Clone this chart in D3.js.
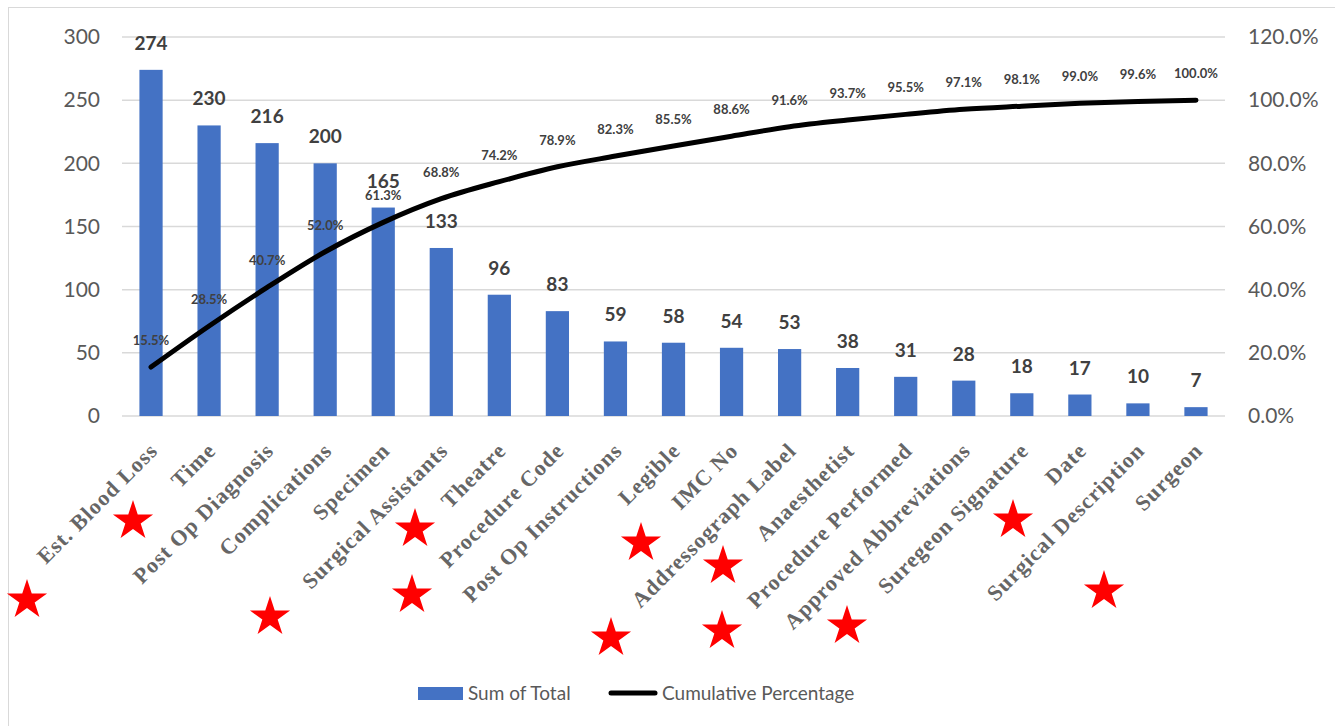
<!DOCTYPE html>
<html>
<head>
<meta charset="utf-8">
<script src="https://cdn.jsdelivr.net/npm/d3@7"></script>
<style>
  body { margin: 0; background: #fff; }
  svg { display: block; }
</style>
</head>
<body>
<div id="chart"></div>
<script>
(function(){
'use strict';

// categories, sorted descending (pareto)
var categories = ['Est. Blood Loss', 'Time', 'Post Op Diagnosis', 'Complications', 'Specimen',
    'Surgical Assistants', 'Theatre', 'Procedure Code', 'Post Op Instructions', 'Legible',
    'IMC No', 'Addressograph Label', 'Anaesthetist', 'Procedure Performed',
    'Approved Abbreviations', 'Suregeon Signature', 'Date', 'Surgical Description', 'Surgeon'];
var totals = [274, 230, 216, 200, 165, 133, 96, 83, 59, 58, 54, 53, 38, 31, 28, 18, 17, 10, 7];
var cumulative = [0.155, 0.285, 0.407, 0.520, 0.613, 0.688, 0.742, 0.789, 0.823, 0.855,
    0.886, 0.916, 0.937, 0.955, 0.971, 0.981, 0.990, 0.996, 1.000];
var leftTicks = [0, 50, 100, 150, 200, 250, 300];
var rightTicks = [0, 0.2, 0.4, 0.6, 0.8, 1.0, 1.2];
// red star annotations drawn on top of the picture (pixel positions)
var starMarks = [[27, 600], [133, 521], [270, 617], [415, 529], [412, 595], [641, 543],
    [611, 638], [723, 566], [722, 631], [847, 626], [1013, 520], [1104, 591]];

var W = 1335, H = 726;
var plot = {left: 122, right: 1225, top: 37, bottom: 416};

var svg = d3.select('#chart').append('svg')
    .attr('width', W).attr('height', H);

svg.append('rect')
    .attr('x', 8.5).attr('y', 7.5)
    .attr('width', W).attr('height', H)
    .attr('fill', '#fff')
    .attr('stroke', '#d9d9d9');

var x = d3.scaleBand().domain(categories)
    .range([plot.left, plot.right])
    .paddingInner(0.6).paddingOuter(0.3);
var y = d3.scaleLinear().domain([0, 300]).range([plot.bottom, plot.top]);
var y2 = d3.scaleLinear().domain([0, 1.2]).range([plot.bottom, plot.top]);

var axisFont = 'Lato, Carlito, "Noto Sans", sans-serif';

// gridlines
svg.append('g').selectAll('line').data(leftTicks).enter().append('line')
    .attr('x1', plot.left).attr('x2', plot.right)
    .attr('y1', function(d) { return y(d); })
    .attr('y2', function(d) { return y(d); })
    .attr('stroke', '#d9d9d9').attr('stroke-width', 1.5);

// left axis
var gl = svg.append('g')
    .attr('transform', 'translate(' + plot.left + ',0)')
    .call(d3.axisLeft(y).tickValues(leftTicks).tickSize(0).tickPadding(22));
gl.select('.domain').remove();
gl.selectAll('text')
    .attr('font-family', axisFont).attr('font-size', 21).attr('fill', '#595959');

// right axis
var gr = svg.append('g')
    .attr('transform', 'translate(' + plot.right + ',0)')
    .call(d3.axisRight(y2).tickValues(rightTicks).tickSize(0).tickPadding(23).tickFormat(d3.format('.1%')));
gr.select('.domain').remove();
gr.selectAll('text')
    .attr('font-family', axisFont).attr('font-size', 21).attr('fill', '#595959');

// bars
svg.append('g').selectAll('rect').data(totals).enter().append('rect')
    .attr('x', function(d, i) { return x(categories[i]); })
    .attr('width', x.bandwidth())
    .attr('y', function(d) { return y(d); })
    .attr('height', function(d) { return plot.bottom - y(d); })
    .attr('fill', '#4472c4');

// bar values
svg.append('g').selectAll('text').data(totals).enter().append('text')
    .attr('x', function(d, i) { return x(categories[i]) + x.bandwidth() / 2; })
    .attr('y', function(d) { return y(d) - 20; })
    .attr('text-anchor', 'middle')
    .attr('font-family', axisFont).attr('font-weight', 'bold')
    .attr('font-size', 19).attr('fill', '#404040')
    .text(function(d) { return d; });

// cumulative line
var line = d3.line()
    .x(function(d, i) { return x(categories[i]) + x.bandwidth() / 2; })
    .y(function(d) { return y2(d); })
    .curve(d3.curveMonotoneX);
svg.append('path').datum(cumulative)
    .attr('d', line)
    .attr('fill', 'none')
    .attr('stroke', '#000')
    .attr('stroke-width', 5)
    .attr('stroke-linecap', 'round')
    .attr('stroke-linejoin', 'round');

// cumulative labels
svg.append('g').selectAll('text').data(cumulative).enter().append('text')
    .attr('x', function(d, i) { return x(categories[i]) + x.bandwidth() / 2; })
    .attr('y', function(d) { return y2(d) - 22; })
    .attr('text-anchor', 'middle')
    .attr('font-family', axisFont).attr('font-weight', 'bold')
    .attr('font-size', 13).attr('fill', '#404040')
    .text(d3.format('.1%'));

// category labels, rotated
svg.append('g').selectAll('text').data(categories).enter().append('text')
    .attr('transform', function(d) {
        return 'translate(' + (x(d) + x.bandwidth() / 2 + 8) + ',452) rotate(-45)';
    })
    .attr('text-anchor', 'end')
    .attr('font-family', '"Liberation Serif", "DejaVu Serif", serif')
    .attr('font-weight', 'bold')
    .attr('letter-spacing', 1)
    .attr('font-size', 22).attr('fill', '#666')
    .text(function(d) { return d; });

// stars
var star = d3.symbol().type(d3.symbolStar).size(500);
svg.append('g').selectAll('path').data(starMarks).enter().append('path')
    .attr('transform', function(d) { return 'translate(' + d[0] + ',' + d[1] + ')'; })
    .attr('d', star)
    .attr('fill', '#ff0000');

// legend
var lg = svg.append('g').attr('font-family', axisFont).attr('font-size', 19).attr('fill', '#595959');
lg.append('rect').attr('x', 418).attr('y', 687).attr('width', 45).attr('height', 13).attr('fill', '#4472c4');
lg.append('text').attr('x', 468).attr('y', 700).text('Sum of Total');
lg.append('line').attr('x1', 611).attr('x2', 655).attr('y1', 693).attr('y2', 693)
    .attr('stroke', '#000').attr('stroke-width', 5).attr('stroke-linecap', 'round');
lg.append('text').attr('x', 662).attr('y', 700).text('Cumulative Percentage');

})();
</script>
</body>
</html>
